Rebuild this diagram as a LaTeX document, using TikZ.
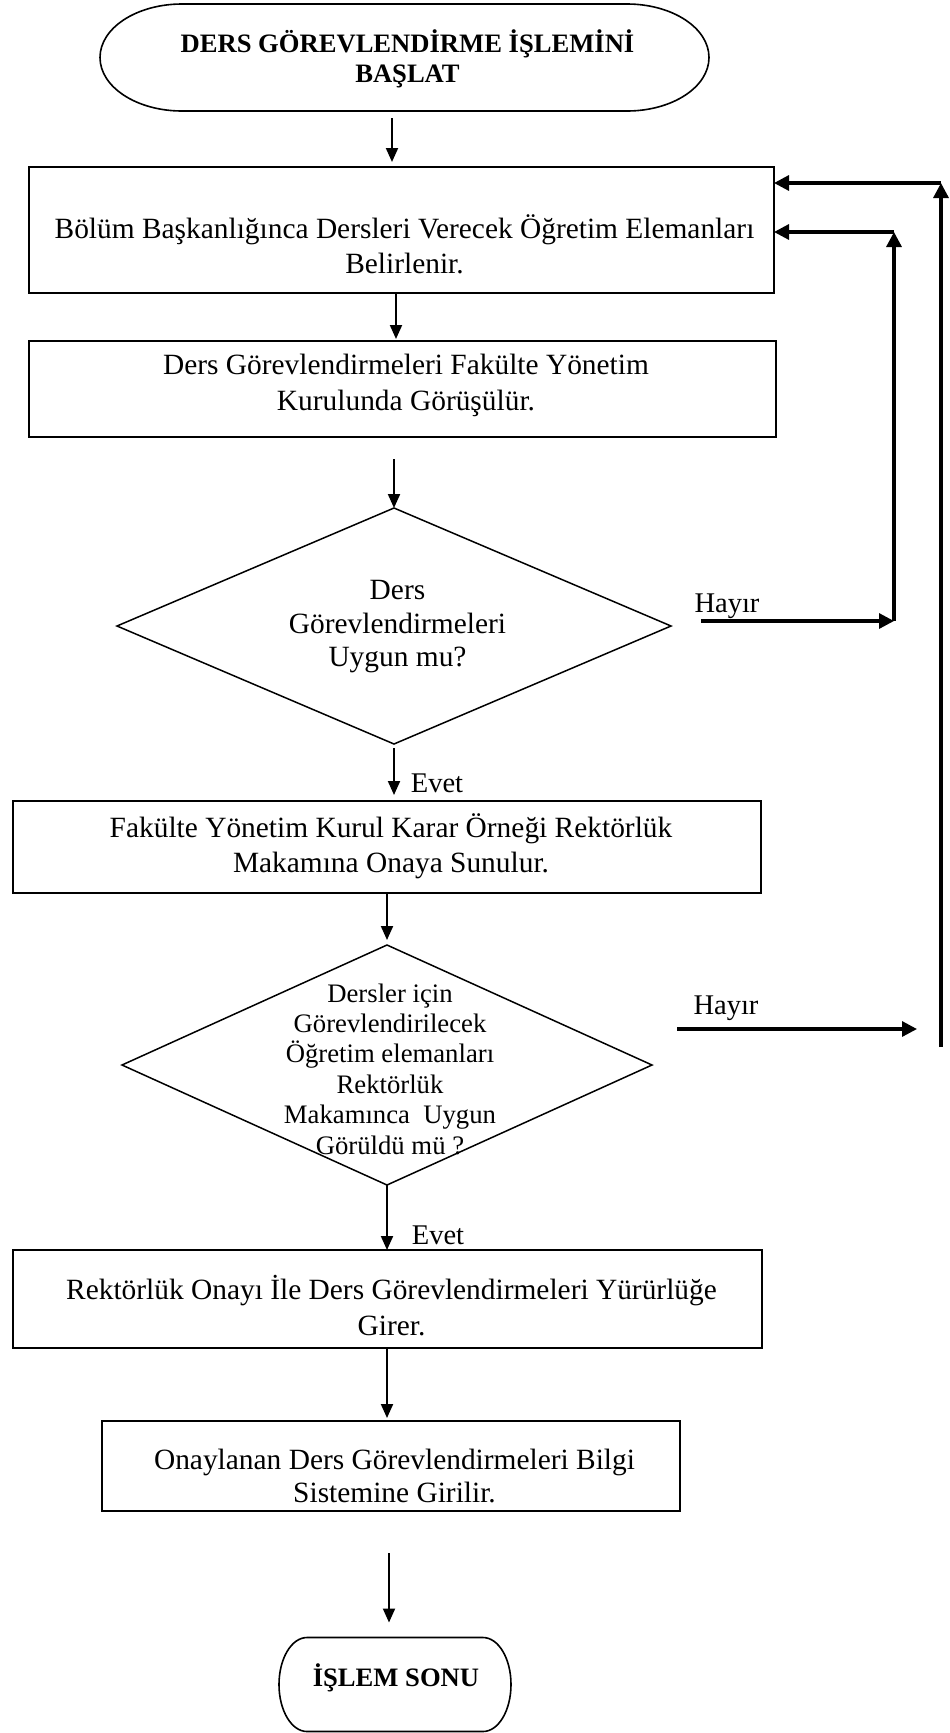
\documentclass[tikz,border=0pt]{standalone}
\usepackage{fontspec}
\setmainfont{Liberation Serif}
\usetikzlibrary{arrows.meta,shapes.geometric}

\begin{document}
\begin{tikzpicture}[x=1pt,y=-1pt,
    kutu/.style={draw,line width=2pt,inner sep=0pt,outer sep=0pt},
    karar/.style={draw,diamond,line width=1.5pt,inner sep=0pt,outer sep=0pt},
    uc/.style={inner sep=0pt,outer sep=0pt},
    cerceve/.style={line width=1.6pt},
    yazi/.style={align=center,inner sep=0pt,font=\fontsize{29.4pt}{#1}\selectfont},
    yazi/.default=35pt,
    kalin/.style={align=center,inner sep=0pt,font=\bfseries\fontsize{26.6pt}{30pt}\selectfont},
    etiket/.style={inner sep=0pt,font=\fontsize{28.5pt}{34pt}\selectfont},
    ok/.style={-{Triangle[length=14pt,width=12pt]},line width=2pt},
    donus/.style={-{Triangle[length=15pt,width=15pt]},line width=3.2pt}]
        \useasboundingbox (0,0) rectangle (950,1733);
        \node [uc,minimum width=609pt,minimum height=107pt] (basla) at (404.5,57.5) {};
        \draw [cerceve] ([xshift=82pt]basla.north west) -- ([xshift=-82pt]basla.north east)
            arc [start angle=90,end angle=-90,x radius=82pt,y radius=53.5pt]
            -- ([xshift=82pt]basla.south west)
            arc [start angle=270,end angle=90,x radius=82pt,y radius=53.5pt] -- cycle;
        \node [kalin] (baslayazi) at (407.5,59) {DERS GÖREVLENDİRME İŞLEMİNİ\\BAŞLAT};
        \node [kutu,minimum width=745.5pt,minimum height=126pt] (b1) at (401.25,230) {};
        \node [yazi] (b1yazi) at (404.5,244) {Bölüm Başkanlığınca Dersleri Verecek Öğretim Elemanları\\Belirlenir.};
        \node [kutu,minimum width=747.5pt,minimum height=96pt] (b2) at (402.25,389) {};
        \node [yazi=36pt] (b2yazi) at (406,385.5) {Ders Görevlendirmeleri Fakülte Yönetim\\Kurulunda Görüşülür.};
        \node [karar,minimum width=554pt,minimum height=236pt] (q1) at (394,626) {};
        \node [yazi=33.5pt] (q1yazi) at (397.5,627) {Ders\\Görevlendirmeleri\\Uygun mu?};
        \node [kutu,minimum width=748pt,minimum height=92pt] (b3) at (387,847) {};
        \node [yazi] (b3yazi) at (391,846) {Fakülte Yönetim Kurul Karar Örneği Rektörlük\\Makamına Onaya Sunulur.};
        \node [karar,minimum width=530pt,minimum height=240pt] (q2) at (387,1065) {};
        \node [align=center,inner sep=0pt,font=\fontsize{26.7pt}{30.4pt}\selectfont] (q2yazi) at (390,1069)
            {Dersler için\\Görevlendirilecek\\Öğretim elemanları\\Rektörlük\\Makamınca~ Uygun\\Görüldü mü ?};
        \node [kutu,minimum width=749pt,minimum height=98pt] (b4) at (387.5,1299) {};
        \node [yazi=36pt] (b4yazi) at (391.5,1306) {Rektörlük Onayı İle Ders Görevlendirmeleri Yürürlüğe\\Girer.};
        \node [kutu,minimum width=578pt,minimum height=90pt] (b5) at (391,1466) {};
        \node [yazi=33pt] (b5yazi) at (394.5,1476) {Onaylanan Ders Görevlendirmeleri Bilgi\\Sistemine Girilir.};
        \node [uc,minimum width=232pt,minimum height=94pt] (son) at (395,1684.5) {};
        \draw [cerceve] ([xshift=28pt]son.north west) -- ([xshift=-28pt]son.north east)
            arc [start angle=90,end angle=-90,x radius=28pt,y radius=47pt]
            -- ([xshift=28pt]son.south west)
            arc [start angle=270,end angle=90,x radius=28pt,y radius=47pt] -- cycle;
        \node [kalin] (sonyazi) at (396,1678) {İŞLEM SONU};
        \coordinate (o3) at (394,459);
        \coordinate (o8) at (389,1553);
        \coordinate (d1) at (894,621);
        \coordinate (d1u) at (894,232);
        \coordinate (h2) at (677,1029);
        \coordinate (d2) at (941,1047);
        \coordinate (d2u) at (941,183);
        \draw [ok,shorten <=7pt,shorten >=5pt] ([xshift=-12.5pt]basla.south) -- ([xshift=-9.25pt]b1.north);
        \draw [ok,shorten >=2pt] ([xshift=-5.25pt]b1.south) -- ([xshift=-6.25pt]b2.north);
        \draw [ok] (o3) -- (o3 |- q1.north);
        \draw [ok,shorten <=4pt,shorten >=6pt] (q1.south) -- (q1.south |- b3.north);
        \node [etiket] (evet1) at (437,783) {Evet};
        \draw [ok,shorten >=5pt] (b3.south) -- (q2.north);
        \draw [ok] (q2.south) -- (q2.south |- b4.north);
        \node [etiket] (evet2) at (438,1235) {Evet};
        \draw [ok,shorten >=3pt] (b4.south -| q2.south) -- (b5.north -| q2.south);
        \draw [ok,shorten >=15pt] (o8) -- (o8 |- son.north);
        \draw [donus,shorten <=30pt] ([yshift=5pt]q1.east) -- (d1);
        \node [etiket] (hayir1) at (727,606.5) {Hayır};
        \draw [donus] (d1) -- (d1u);
        \draw [donus] (d1u) -- (d1u -| b1.east);
        \draw [donus,shorten >=24pt] (h2) -- (h2 -| d2);
        \node [etiket] (hayir2) at (726,1008.5) {Hayır};
        \draw [donus] (d2) -- (d2u);
        \draw [donus] (d2u) -- (d2u -| b1.east);
\end{tikzpicture}
\end{document}
